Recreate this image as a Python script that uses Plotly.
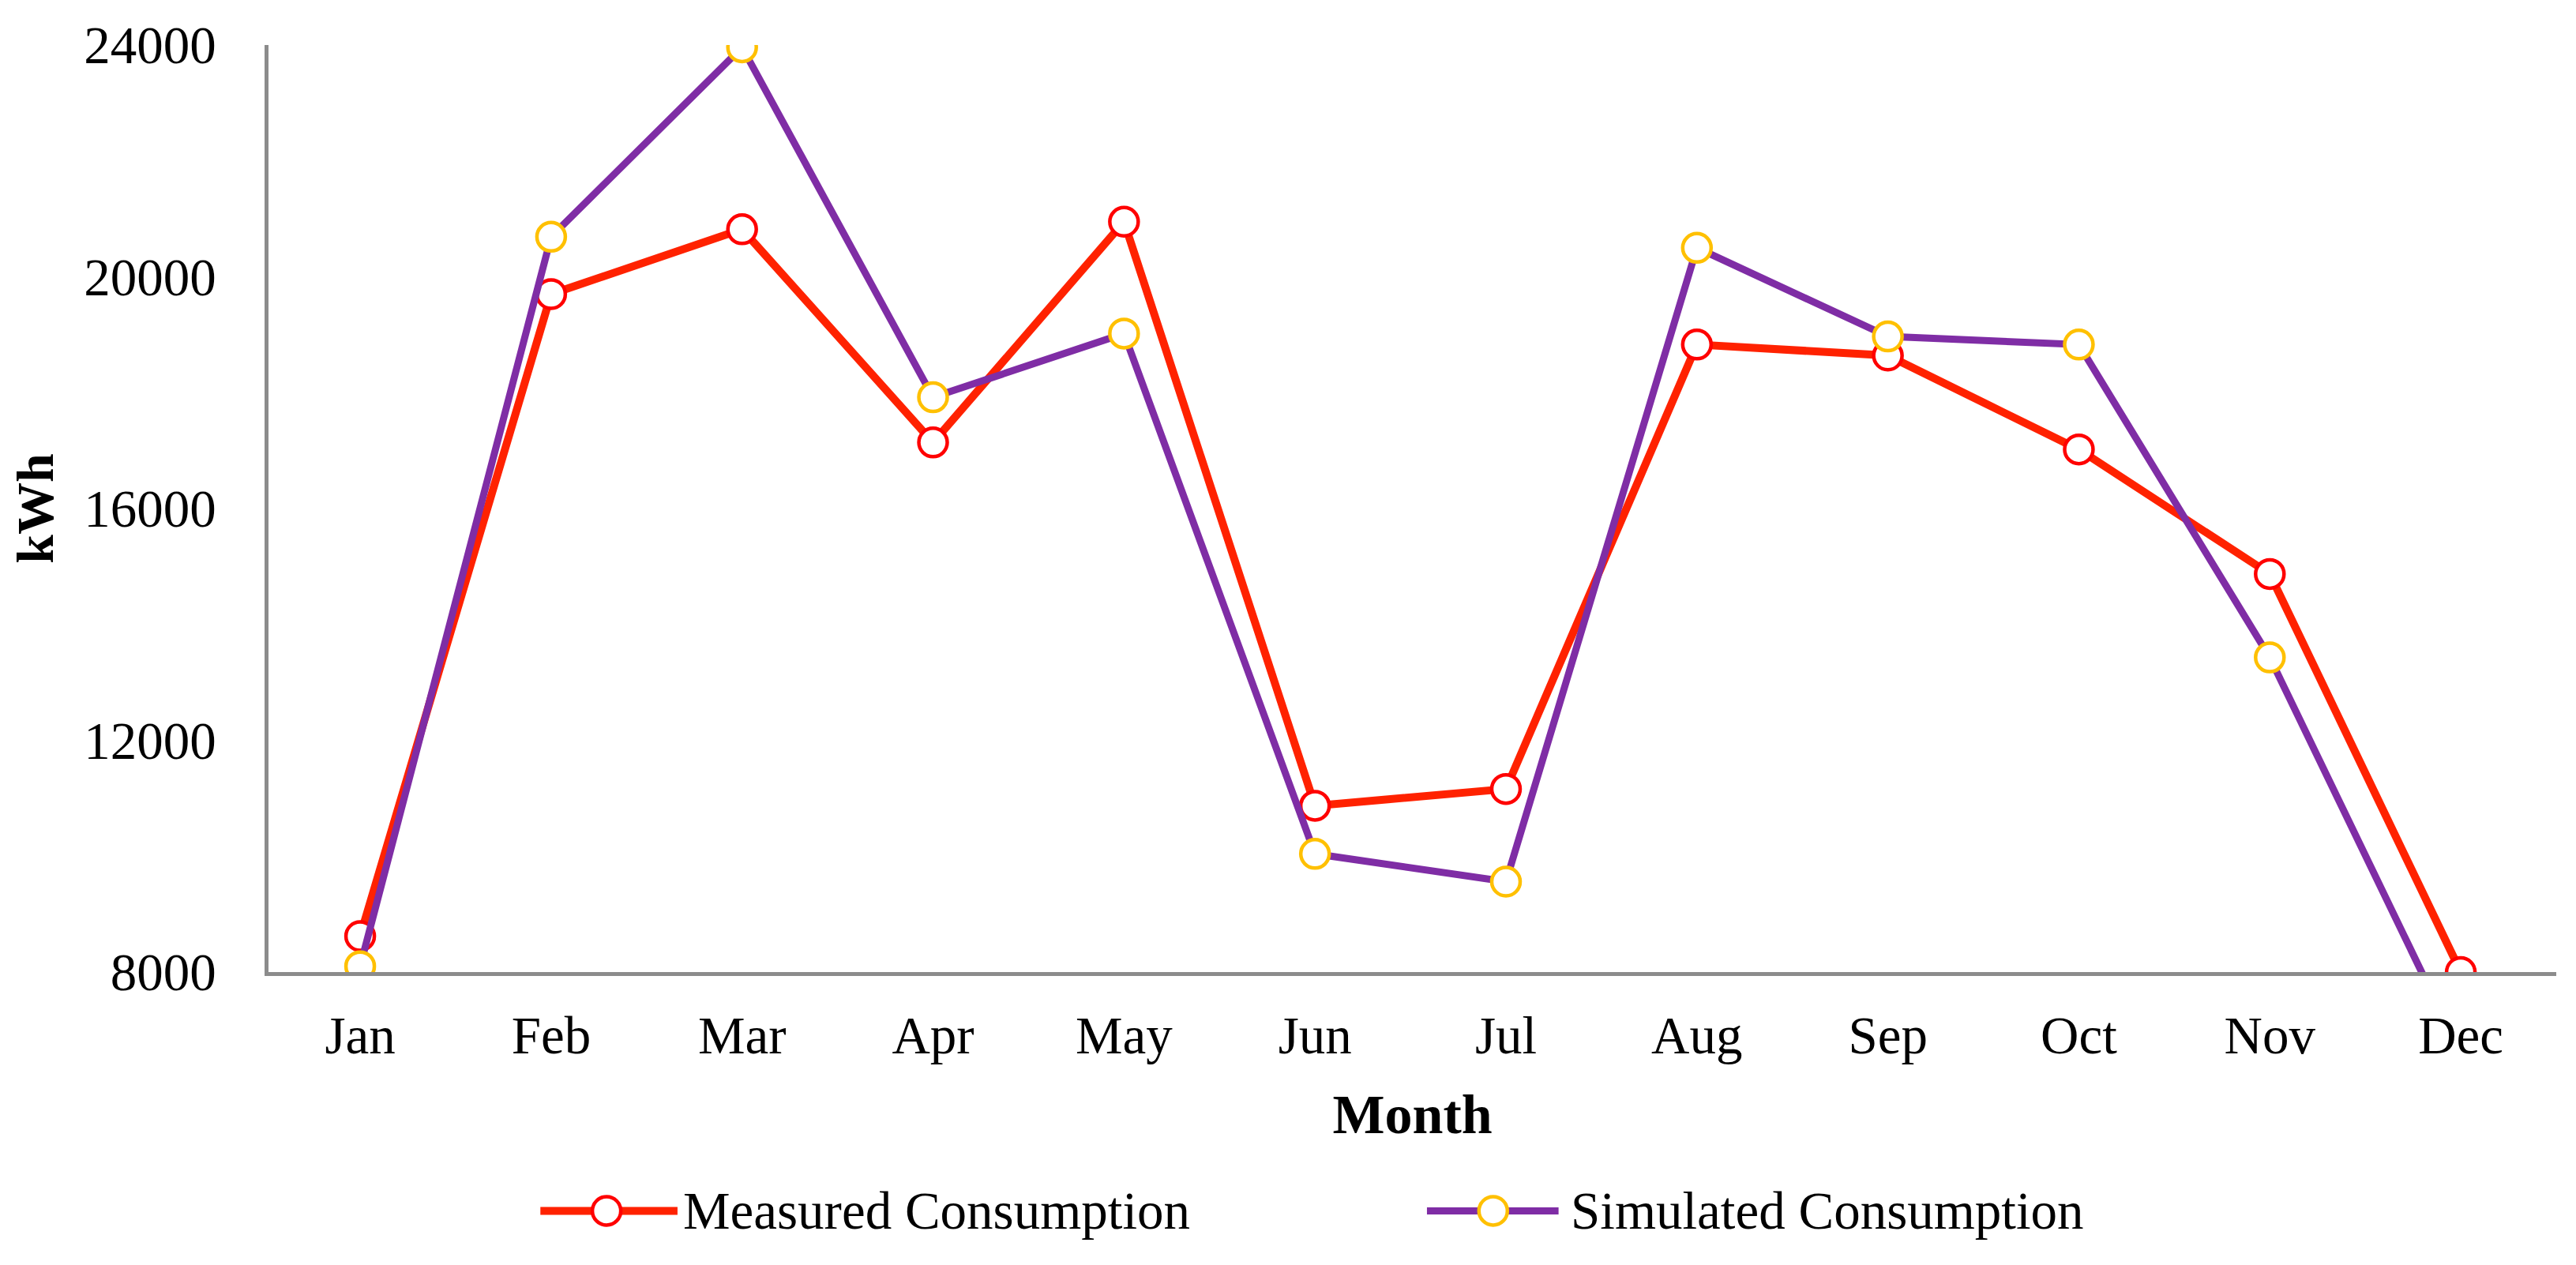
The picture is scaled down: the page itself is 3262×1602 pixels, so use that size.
import plotly.graph_objects as go

months = ["Jan", "Feb", "Mar", "Apr", "May", "Jun", "Jul", "Aug", "Sep", "Oct", "Nov", "Dec"]
measured = [8620, 19700, 20820, 17140, 20950, 10870, 11160, 18830, 18640, 17020, 14870, 8000]
simulated = [8100, 20690, 23960, 17920, 19020, 10040, 9560, 20500, 18970, 18830, 13430, 6600]
y_ticks = [8000, 12000, 16000, 20000, 24000]
series_names = ["Measured Consumption", "Simulated Consumption"]

FONT = "Times New Roman, Liberation Serif, serif"
RED_LINE = "#FF2200"
RED_MARK = "#FF0000"
PURPLE = "#7F2DA5"
YELLOW = "#FFC000"
AXIS = "#8C8C8C"

OFF = 8  # default page body margin
W, H = 3262 - OFF, 1602 - OFF
L, R, T, B = 334 - OFF, 25, 55 - OFF, 371
pw, ph = W - L - R, H - T - B

fig = go.Figure()
fig.add_trace(go.Scatter(
    x=months, y=measured, name=series_names[0], mode="lines+markers",
    line=dict(color=RED_LINE, width=10),
    marker=dict(symbol="circle", size=36, color="white", line=dict(color=RED_MARK, width=4.5)),
    showlegend=False, cliponaxis=True,
))
fig.add_trace(go.Scatter(
    x=months, y=simulated, name=series_names[1], mode="lines+markers",
    line=dict(color=PURPLE, width=9),
    marker=dict(symbol="circle", size=36, color="white", line=dict(color=YELLOW, width=4.5)),
    showlegend=False, cliponaxis=True,
))

def px2paper(px, py):
    # page pixel -> paper coordinates
    return (px - OFF - L) / pw, (T + ph - (py - OFF)) / ph

# Manual legend (line sample + open marker + label)
legend_items = [
    (series_names[0], RED_LINE, RED_MARK, 10, 679, 853, 763, 858),
    (series_names[1], PURPLE, YELLOW, 9, 1804, 1971, 1888, 1984),
]
legend_y_px = 1534
for name, lc, mc, lw, x0, x1, xm, xt in legend_items:
    a0, yy = px2paper(x0, legend_y_px)
    a1, _ = px2paper(x1, legend_y_px)
    am, _ = px2paper(xm, legend_y_px)
    at, _ = px2paper(xt, legend_y_px)
    fig.add_shape(type="line", xref="paper", yref="paper", x0=a0, x1=a1, y0=yy, y1=yy,
                  line=dict(color=lc, width=lw))
    fig.add_shape(type="circle", xref="paper", yref="paper", xsizemode="pixel", ysizemode="pixel",
                  xanchor=am, yanchor=yy, x0=-18, x1=18, y0=-18, y1=18,
                  fillcolor="white", line=dict(color=mc, width=4.5))
    fig.add_annotation(x=at, y=yy, xref="paper", yref="paper", text=name, showarrow=False,
                       xanchor="left", yanchor="middle",
                       font=dict(family=FONT, size=67, color="black"))

fig.update_layout(
    width=W, height=H,
    margin=dict(l=L, r=R, t=T, b=B),
    paper_bgcolor="white", plot_bgcolor="white",
    font=dict(family=FONT, size=67, color="black"),
    showlegend=False,
)
fig.update_xaxes(
    type="category", categoryorder="array", categoryarray=months,
    range=[-0.48, 11.5],
    showgrid=False, zeroline=False,
    showline=True, linecolor=AXIS, linewidth=4.5,
    ticks="", ticklabelstandoff=18,
    tickfont=dict(family=FONT, size=67, color="black"),
    title=dict(text="<b>Month</b>", font=dict(family=FONT, size=70, color="black"), standoff=40),
)
fig.update_yaxes(
    range=[8000, 24000], tickvals=y_ticks, ticktext=[str(v) for v in y_ticks],
    showgrid=False, zeroline=False,
    showline=True, linecolor=AXIS, linewidth=4.5,
    ticks="", ticklabelstandoff=48,
    tickfont=dict(family=FONT, size=67, color="black"),
    title=dict(text="<b>kWh</b>", font=dict(family=FONT, size=66, color="black"), standoff=40),
)

fig.write_html("out.html")
